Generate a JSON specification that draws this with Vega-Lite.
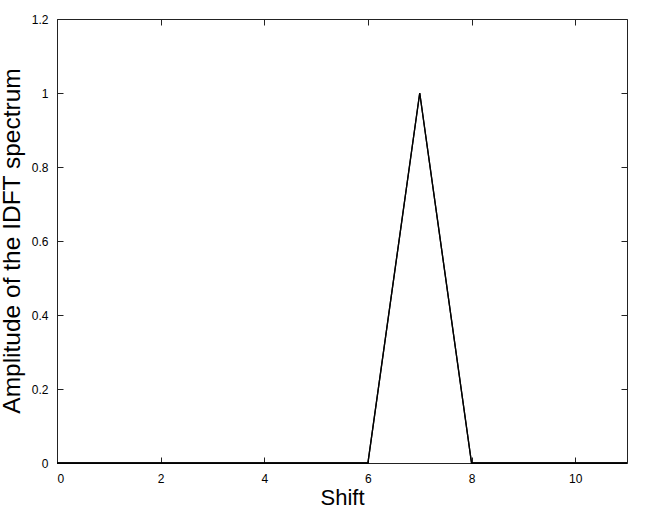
{
  "$schema": "https://vega.github.io/schema/vega-lite/v6.json",
  "autosize": {"type": "none"},
  "padding": {"left": 57, "top": 19, "right": 23, "bottom": 43},
  "width": 570,
  "height": 444,
  "background": "white",
  "config": {
    "view": {"stroke": "#222222", "strokeWidth": 1},
    "font": "Liberation Sans",
    "axis": {
      "grid": false,
      "domain": false,
      "tickColor": "#222222",
      "tickSize": -6,
      "tickWidth": 1,
      "labelFont": "Liberation Sans",
      "labelFontSize": 12,
      "labelColor": "black",
      "titleFont": "Liberation Sans",
      "titleFontWeight": "normal",
      "titleColor": "black"
    }
  },
  "data": {
    "values": [
      {"shift": 0, "amp": 0},
      {"shift": 1, "amp": 0},
      {"shift": 2, "amp": 0},
      {"shift": 3, "amp": 0},
      {"shift": 4, "amp": 0},
      {"shift": 5, "amp": 0},
      {"shift": 6, "amp": 0},
      {"shift": 7, "amp": 1},
      {"shift": 8, "amp": 0},
      {"shift": 9, "amp": 0},
      {"shift": 10, "amp": 0},
      {"shift": 11, "amp": 0}
    ]
  },
  "layer": [
    {
      "mark": {"type": "line", "color": "black", "strokeWidth": 1.3},
      "encoding": {
        "x": {
          "field": "shift", "type": "quantitative",
          "scale": {"domain": [0, 11], "nice": false, "zero": false},
          "axis": {"orient": "bottom", "values": [0, 2, 4, 6, 8, 10], "title": "Shift", "labelPadding": 16, "titleFontSize": 22, "titleBaseline": "alphabetic", "titleAnchor": "middle", "titleY": 41}
        },
        "y": {
          "field": "amp", "type": "quantitative",
          "scale": {"domain": [0, 1.2], "nice": false},
          "axis": {"orient": "left", "values": [0, 0.2, 0.4, 0.6, 0.8, 1, 1.2], "format": "~g", "title": "Amplitude of the IDFT spectrum", "labelPadding": 15, "titleFontSize": 24.5, "titleBaseline": "alphabetic", "titleAnchor": "middle", "titleX": -38, "titleY": 221.5}
        }
      }
    },
    {
      "mark": {"type": "line", "color": "black", "strokeWidth": 1.3},
      "encoding": {
        "x": {
          "field": "shift", "type": "quantitative",
          "scale": {"domain": [0, 11], "nice": false, "zero": false},
          "axis": {"orient": "top", "values": [0, 2, 4, 6, 8, 10], "labels": false, "title": null}
        },
        "y": {
          "field": "amp", "type": "quantitative",
          "scale": {"domain": [0, 1.2], "nice": false},
          "axis": {"orient": "right", "values": [0, 0.2, 0.4, 0.6, 0.8, 1, 1.2], "labels": false, "title": null}
        }
      }
    }
  ],
  "resolve": {"axis": {"x": "independent", "y": "independent"}}
}
